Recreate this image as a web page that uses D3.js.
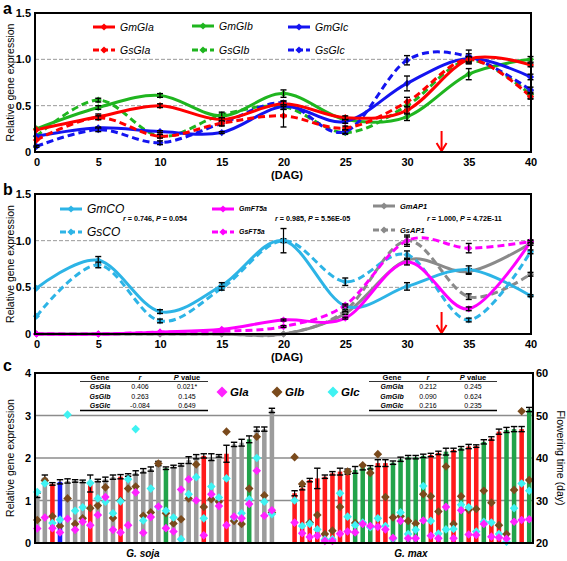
<!DOCTYPE html>
<html><head><meta charset="utf-8">
<script src="https://cdn.jsdelivr.net/npm/d3@7"></script>
<style>body{margin:0;background:#fff} text{font-family:"Liberation Sans",Arial,sans-serif}</style>
</head><body><svg id="c" width="567" height="561"></svg>
<script>
// ---------- DATA ----------
const days=[0,5,10,15,20,25,30,35,40];
// panel a (GIGANTEA)
const aGmGIa=[0.24,0.38,0.50,0.35,0.52,0.37,0.45,1.00,0.94];
const aGsGIa=[0.13,0.37,0.17,0.31,0.39,0.26,0.54,1.00,0.60];
const aGmGIb=[0.25,0.48,0.61,0.39,0.63,0.35,0.38,0.84,1.00];
const aGsGIb=[0.17,0.56,0.17,0.40,0.49,0.21,0.50,0.99,0.62];
const aGmGIc=[0.17,0.26,0.22,0.21,0.49,0.33,0.74,1.01,0.81];
const aGsGIc=[0.06,0.24,0.10,0.31,0.53,0.22,0.99,1.03,0.67];
const aErrGmGIa=[0,0.03,0.02,0.02,0.03,0.02,0.04,0.02,0.02];
const aErrGsGIa=[0,0.02,0.02,0.03,0.12,0.02,0.05,0.03,0.03];
const aErrGmGIb=[0,0.02,0.02,0.02,0.04,0.01,0.04,0.06,0.03];
const aErrGsGIb=[0,0.02,0.01,0.03,0.03,0.02,0.04,0.04,0.04];
const aErrGmGIc=[0,0.01,0.01,0.01,0.03,0.02,0.08,0.05,0.03];
const aErrGsGIc=[0.01,0.02,0.02,0.02,0.02,0.02,0.05,0.07,0.03];
// panel b
const bGmCO=[0.49,0.79,0.24,0.52,1.00,0.30,0.51,0.69,0.41];
const bGsCO=[0.19,0.74,0.14,0.49,1.00,0.56,0.85,0.15,0.88];
const bGmFT5a=[0.00,0.00,0.02,0.05,0.15,0.17,0.77,0.27,0.99];
const bGsFT5a=[0.00,0.00,0.02,0.03,0.08,0.31,1.00,0.92,0.99];
const bGmAP1=[0.00,0.00,0.00,0.00,0.00,0.22,0.79,0.67,0.97];
const bGsAP1=[0.00,0.00,0.00,0.00,0.00,0.25,1.00,0.40,0.64];
const bErrGmCO=[0,0.04,0.02,0.03,0.02,0.02,0.04,0.04,0.01];
const bErrGsCO=[0,0.03,0.02,0.02,0.13,0.04,0.04,0.02,0.02];
const bErrGmFT5a=[0,0,0,0,0.01,0.01,0.03,0.02,0.02];
const bErrGsFT5a=[0,0,0,0,0.01,0.01,0.04,0.05,0.01];
const bErrGmAP1=[0,0,0,0,0,0.01,0.02,0.03,0.02];
const bErrGsAP1=[0,0,0,0,0,0.01,0.06,0.03,0.02];
const bStats=["r = 0.746, P = 0.054","r = 0.985, P = 5.56E-05","r = 1.000, P = 4.72E-11"];
// panel c : flowering time (day) per accession and relative expression
const sojaFT=[31.2,35.5,33.9,34.4,34.6,34.6,34.5,34.0,34.7,35.0,35.5,35.6,36.0,36.5,37.0,37.4,38.7,37.6,38.0,38.4,39.5,40.3,40.5,40.2,40.5,41.0,43.2,43.6,44.4,46.8,46.8,51.2];
const sojaErr=[0.5,0.5,0.3,0.5,0.5,0.3,0.3,2.0,0.3,0.5,0.5,0.5,0.3,0.5,0.5,0.5,0.5,0.3,0.3,0.3,0.8,0.5,0.5,0.8,0.3,2.0,0.5,0.8,0.8,0.5,0.5,0.5];
const sojaType=["g","g","r","b","g","g","g","r","g","g","g","r","g","g","g","g","g","n","g","g","g","g","r","g","g","r","g","g","n","g","g","g"];
const sojaGIa=[0.34,0.60,0.35,0.25,0.57,0.31,0.50,0.42,0.66,1.08,0.31,0.25,0.42,1.19,0.24,0.61,0.86,0.35,0.27,1.26,1.50,1.00,0.18,1.15,0.87,0.42,0.62,0.58,0.92,1.70,0.64,0.77];
const sojaGIb=[0.54,1.47,0.63,0.40,1.05,0.45,0.58,0.82,0.88,1.31,0.59,1.00,1.28,1.33,0.64,0.72,1.87,0.70,0.46,0.56,1.05,1.85,0.85,1.03,0.97,2.62,0.52,0.45,1.28,2.50,1.12,0.72];
const sojaGIc=[1.20,1.40,0.47,0.55,3.02,0.76,0.84,1.41,1.05,0.97,0.70,0.98,1.50,2.68,0.53,1.28,0.85,0.76,0.60,0.09,1.15,1.55,0.58,1.33,1.07,1.52,0.60,0.70,1.03,2.00,0.97,0.68];
const maxFT=[31.7,32.9,34.8,35.2,35.6,36.4,36.8,36.8,37.2,37.8,37.8,38.8,38.8,38.9,39.7,40.2,40.2,40.5,40.7,41.2,41.5,41.9,42.3,42.7,42.8,43.8,44.6,46.2,46.6,46.8,46.8,51.4];
const maxErr=[0.6,0.4,0.4,2.4,0.4,0.4,0.8,0.6,0.8,0.6,0.4,0.8,0.8,0.4,0.5,0.4,0.4,0.4,0.4,0.4,0.8,0.4,0.4,0.5,0.3,0.5,0.4,0.6,0.6,0.6,0.6,0.5];
const maxType=["r","r","r","r","r","r","r","r","n","n","n","r","r","n","n","n","n","n","r","r","n","r","n","r","r","n","r","r","n","n","r","n"];
const maxGIa=[0.48,0.23,0.14,0.17,0.05,0.05,0.22,0.27,0.25,0.45,0.40,0.38,0.32,0.12,0.52,0.11,0.11,0.53,0.17,0.11,0.85,0.11,0.77,0.20,0.19,0.45,0.15,0.13,0.10,0.50,0.54,0.56];
const maxGIb=[2.02,1.39,0.48,0.66,0.21,0.29,0.85,1.68,0.47,1.83,1.65,2.09,1.08,0.60,0.63,0.52,0.46,1.15,1.10,0.74,1.80,0.45,1.10,0.78,0.80,1.23,0.95,0.42,0.21,1.25,3.10,1.48];
const maxGIc=[1.00,0.40,0.45,0.32,0.08,0.09,1.17,0.62,0.42,0.48,0.37,0.58,0.40,0.10,0.72,0.21,0.31,1.34,0.52,0.22,0.32,0.33,0.90,0.84,0.27,0.50,0.48,0.21,0.03,0.82,1.40,1.23];
const sojaTable=[["GsGIa","0.406","0.021*"],["GsGIb","0.263","0.145"],["GsGIc","-0.084","0.649"]];
const maxTable=[["GmGIa","0.212","0.245"],["GmGIb","0.090","0.624"],["GmGIc","0.216","0.235"]];
const dayTicks=[0,5,10,15,20,25,30,35,40];

// ---------- DRAW ----------
const svg=d3.select("#c");
const FONT='"Liberation Sans",Arial,sans-serif';
const RED="#ff0000",GREEN="#1fb51f",BLUE="#1414f0",CYAN="#2db4e6",MAG="#ff00ff",GRAY="#8a8a8a";
const curve=d3.curveCardinal.tension(0);
const dia=r=>`M0,${-r}L${r},0L0,${r}L${-r},0Z`;

function linePanel(top,bottom,series,label,arrowTop){
  const x=d3.scaleLinear().domain([0,40]).range([36.5,530.5]);
  const y=d3.scaleLinear().domain([0,1.5]).range([bottom,top]);
  const g=svg.append("g");
  g.append("text").attr("x",3).attr("y",top+0.5).attr("font-size",16).attr("font-weight","bold").text(label);
  [0.5,1.0].forEach(v=>g.append("line").attr("x1",35).attr("x2",531).attr("y1",y(v)).attr("y2",y(v))
     .attr("stroke","#999").attr("stroke-width",1).attr("stroke-dasharray","4,2"));
  const ya=g.append("g").attr("transform","translate(35,0)")
     .call(d3.axisLeft(y).tickValues([0,0.5,1,1.5]).tickFormat(d=>d===0?"0":d3.format(".1f")(d)).tickSize(0).tickPadding(4));
  const xa=g.append("g").attr("transform",`translate(0,${bottom})`)
     .call(d3.axisBottom(x).tickValues(dayTicks).tickSize(0).tickPadding(6));
  [ya,xa].forEach(a=>{a.select(".domain").remove();a.selectAll("text").attr("font-size",11).attr("font-weight","bold").attr("font-family",FONT).attr("fill","#000");});
  g.append("text").attr("x",287).attr("y",bottom+27).attr("text-anchor","middle").attr("font-size",11).attr("font-weight","bold").text("(DAG)");
  g.append("text").attr("transform",`translate(14,${(top+bottom)/2}) rotate(-90)`).attr("text-anchor","middle")
     .attr("font-size",10.5).text("Relative gene expression");
  const ln=d3.line().x((d,i)=>x(days[i])).y(d=>y(d)).curve(curve);
  series.forEach(s=>{
    g.append("path").attr("d",ln(s.v)).attr("fill","none").attr("stroke",s.c).attr("stroke-width",3)
      .attr("stroke-dasharray",s.dash?"7,4":null);
  });
  series.forEach(s=>{
    s.v.forEach((v,i)=>{
      g.append("path").attr("d",dia(3.6)).attr("transform",`translate(${x(days[i])},${y(v)})`).attr("fill",s.c);
      const e=s.e[i];
      if(e>0){
        const a=y(v+e),b=y(v-e),cx=x(days[i]);
        g.append("line").attr("x1",cx).attr("x2",cx).attr("y1",a).attr("y2",b).attr("stroke","#000").attr("stroke-width",1.2);
        [a,b].forEach(yy=>g.append("line").attr("x1",cx-3).attr("x2",cx+3).attr("y1",yy).attr("y2",yy).attr("stroke","#000").attr("stroke-width",1.4));
      }
    });
  });
  const ax=x(32.8);
  g.append("line").attr("x1",ax).attr("x2",ax).attr("y1",arrowTop).attr("y2",bottom-2).attr("stroke",RED).attr("stroke-width",2);
  g.append("path").attr("d",`M${ax-5},${bottom-9}L${ax},${bottom-1}L${ax+5},${bottom-9}`).attr("fill","none").attr("stroke",RED).attr("stroke-width",2);
  g.append("rect").attr("x",35).attr("y",top).attr("width",496).attr("height",bottom-top).attr("fill","none").attr("stroke","#000").attr("stroke-width",2);
  return {g,x,y};
}
function legendItem(g,x0,yy,len,color,dash,text,fs,fw){
  g.append("line").attr("x1",x0).attr("x2",x0+len).attr("y1",yy).attr("y2",yy).attr("stroke",color).attr("stroke-width",3).attr("stroke-dasharray",dash?"6,3":null);
  g.append("path").attr("d",dia(3.6)).attr("transform",`translate(${x0+len/2},${yy})`).attr("fill",color);
  g.append("text").attr("x",x0+len+5).attr("y",yy+fs*0.35).attr("font-size",fs).attr("font-style","italic").attr("font-weight",fw).text(text);
}

// Panel a
const A=linePanel(13,152,[
  {v:aGmGIb,e:aErrGmGIb,c:GREEN},{v:aGsGIb,e:aErrGsGIb,c:GREEN,dash:true},
  {v:aGmGIc,e:aErrGmGIc,c:BLUE},{v:aGsGIc,e:aErrGsGIc,c:BLUE,dash:true},
  {v:aGmGIa,e:aErrGmGIa,c:RED},{v:aGsGIa,e:aErrGsGIa,c:RED,dash:true}],"a",131);
legendItem(A.g,93,27,22,RED,false,"GmGIa",10.5,"normal");
legendItem(A.g,192,26,22,GREEN,false,"GmGIb",10.5,"normal");
legendItem(A.g,288,27,22,BLUE,false,"GmGIc",10.5,"normal");
legendItem(A.g,93,50,22,RED,true,"GsGIa",10.5,"normal");
legendItem(A.g,192,50,22,GREEN,true,"GsGIb",10.5,"normal");
legendItem(A.g,288,50,22,BLUE,true,"GsGIc",10.5,"normal");

// Panel b
const B=linePanel(194,334,[
  {v:bGmAP1,e:bErrGmAP1,c:GRAY},{v:bGsAP1,e:bErrGsAP1,c:GRAY,dash:true},
  {v:bGmCO,e:bErrGmCO,c:CYAN},{v:bGsCO,e:bErrGsCO,c:CYAN,dash:true},
  {v:bGmFT5a,e:bErrGmFT5a,c:MAG},{v:bGsFT5a,e:bErrGsFT5a,c:MAG,dash:true}],"b",312);
legendItem(B.g,60,209,22,CYAN,false,"GmCO",12,"normal");
legendItem(B.g,60,232,22,CYAN,true,"GsCO",12,"normal");
legendItem(B.g,212,209,22,MAG,false,"GmFT5a",7,"bold");
legendItem(B.g,212,232,22,MAG,true,"GsFT5a",7,"bold");
legendItem(B.g,373,206,22,GRAY,false,"GmAP1",7.5,"bold");
legendItem(B.g,373,230,22,GRAY,true,"GsAP1",7.5,"bold");
function statText(x0,t){
  const parts=t.split(/(r|P)(?= =)/);
  const tx=B.g.append("text").attr("x",x0).attr("y",221).attr("font-size",7.2).attr("font-weight","bold");
  parts.forEach(p=>{ if(!p) return; tx.append("tspan").attr("font-style",(p==="r"||p==="P")?"italic":"normal").text(p);});
}
statText(123,bStats[0]);statText(275,bStats[1]);statText(427,bStats[2]);

// Panel c
const cTop=373,cBot=543;
const ids=[...sojaFT.map((d,i)=>"s"+i),"gap1","gap2",...maxFT.map((d,i)=>"m"+i)];
const xc=d3.scaleBand().domain(ids).range([33.5,533]).paddingInner(0.4).paddingOuter(0.2);
const yL=d3.scaleLinear().domain([0,4]).range([cBot,cTop]);
const yR=d3.scaleLinear().domain([20,60]).range([cBot,cTop]);
const gc=svg.append("g");
gc.append("text").attr("x",3).attr("y",cTop-2).attr("font-size",16).attr("font-weight","bold").text("c");
[1,2,3].forEach(v=>gc.append("line").attr("x1",35).attr("x2",533).attr("y1",yL(v)).attr("y2",yL(v)).attr("stroke","#8c8c8c").attr("stroke-width",1.6));
const barCol={g:"#9c9c9c",r:"#ff1a1a",b:"#1a1aff",n:"#22a34a"};
const bars=[...sojaFT.map((d,i)=>({id:"s"+i,ft:d,err:sojaErr[i],t:sojaType[i],a:sojaGIa[i],b:sojaGIb[i],c:sojaGIc[i]})),
            ...maxFT.map((d,i)=>({id:"m"+i,ft:d,err:maxErr[i],t:maxType[i],a:maxGIa[i],b:maxGIb[i],c:maxGIc[i]}))];
const bw=xc.bandwidth();
bars.forEach(d=>{
  gc.append("rect").attr("x",xc(d.id)).attr("y",yR(d.ft)).attr("width",bw).attr("height",cBot-yR(d.ft)).attr("fill",barCol[d.t]);
});
bars.forEach(d=>{
  const cx=xc(d.id)+bw/2;
  const a=yR(d.ft+d.err),b=yR(d.ft-d.err);
  gc.append("line").attr("x1",cx).attr("x2",cx).attr("y1",a).attr("y2",b).attr("stroke","#000").attr("stroke-width",1.2);
  [a,b].forEach(yy=>gc.append("line").attr("x1",cx-3.2).attr("x2",cx+3.2).attr("y1",yy).attr("y2",yy).attr("stroke","#000").attr("stroke-width",1.4));
});
const dotCol={a:"#ff22ff",b:"#7a4a1c",c:"#3ff2f2"};
bars.forEach(d=>{
  const cx=xc(d.id)+bw/2;
  ["b","c","a"].forEach(k=>{
    gc.append("path").attr("d",dia(4.3)).attr("transform",`translate(${cx},${yL(d[k])})`).attr("fill",dotCol[k]);
  });
});
const cl=gc.append("g").attr("transform","translate(35,0)").call(d3.axisLeft(yL).ticks(4).tickSize(0).tickPadding(4));
const cr=gc.append("g").attr("transform","translate(533,0)").call(d3.axisRight(yR).tickValues([20,30,40,50,60]).tickSize(0).tickPadding(3));
[cl,cr].forEach(a=>{a.select(".domain").remove();a.selectAll("text").attr("font-size",11).attr("font-weight","bold").attr("font-family",FONT).attr("fill","#000");});
gc.append("rect").attr("x",35).attr("y",cTop).attr("width",498).attr("height",cBot-cTop).attr("fill","none").attr("stroke","#000").attr("stroke-width",2);
gc.append("text").attr("transform",`translate(14,${(cTop+cBot)/2}) rotate(-90)`).attr("text-anchor","middle").attr("font-size",10.5).text("Relative gene expression");
gc.append("text").attr("transform",`translate(557,${(cTop+cBot)/2}) rotate(90)`).attr("text-anchor","middle").attr("font-size",10.5).text("Flowering time (day)");
gc.append("text").attr("x",143).attr("y",557).attr("text-anchor","middle").attr("font-size",10).attr("font-weight","bold").attr("font-style","italic").text("G. soja");
gc.append("text").attr("x",411).attr("y",557).attr("text-anchor","middle").attr("font-size",10).attr("font-weight","bold").attr("font-style","italic").text("G. max");
[["a","GIa",222],["b","GIb",277],["c","GIc",333]].forEach(([k,t,lx])=>{
  gc.append("path").attr("d",dia(5.5)).attr("transform",`translate(${lx},392)`).attr("fill",dotCol[k]);
  gc.append("text").attr("x",lx+8).attr("y",396).attr("font-size",11.5).attr("font-weight","bold").attr("font-style","italic").text(t);
});
function table(x0,x1,cols,rows){
  const t=gc.append("g");
  [["Gene",cols[0],"normal"],["r",cols[1],"italic"],["P value",cols[2],"normal"]].forEach(([h,cx,st])=>{
    const tx=t.append("text").attr("x",cx).attr("y",cTop+7).attr("text-anchor","middle").attr("font-size",7.5).attr("font-weight","bold");
    if(h==="P value"){tx.append("tspan").attr("font-style","italic").text("P");tx.append("tspan").text(" value");}
    else tx.attr("font-style",st).text(h);
  });
  t.append("line").attr("x1",x0).attr("x2",x1).attr("y1",cTop+8.5).attr("y2",cTop+8.5).attr("stroke","#000").attr("stroke-width",0.8);
  rows.forEach((r,i)=>{
    const yy=cTop+16+i*9.5;
    r.forEach((v,j)=>t.append("text").attr("x",cols[j]).attr("y",yy).attr("text-anchor","middle").attr("font-size",7)
      .attr("font-style",j===0?"italic":"normal").attr("font-weight",j===0?"bold":"normal").text(v));
  });
  t.append("line").attr("x1",x0).attr("x2",x1).attr("y1",cTop+37.5).attr("y2",cTop+37.5).attr("stroke","#000").attr("stroke-width",1.6);
}
table(80,208,[100,140,187],sojaTable);
table(369,497,[392,428,473],maxTable);
</script></body></html>
